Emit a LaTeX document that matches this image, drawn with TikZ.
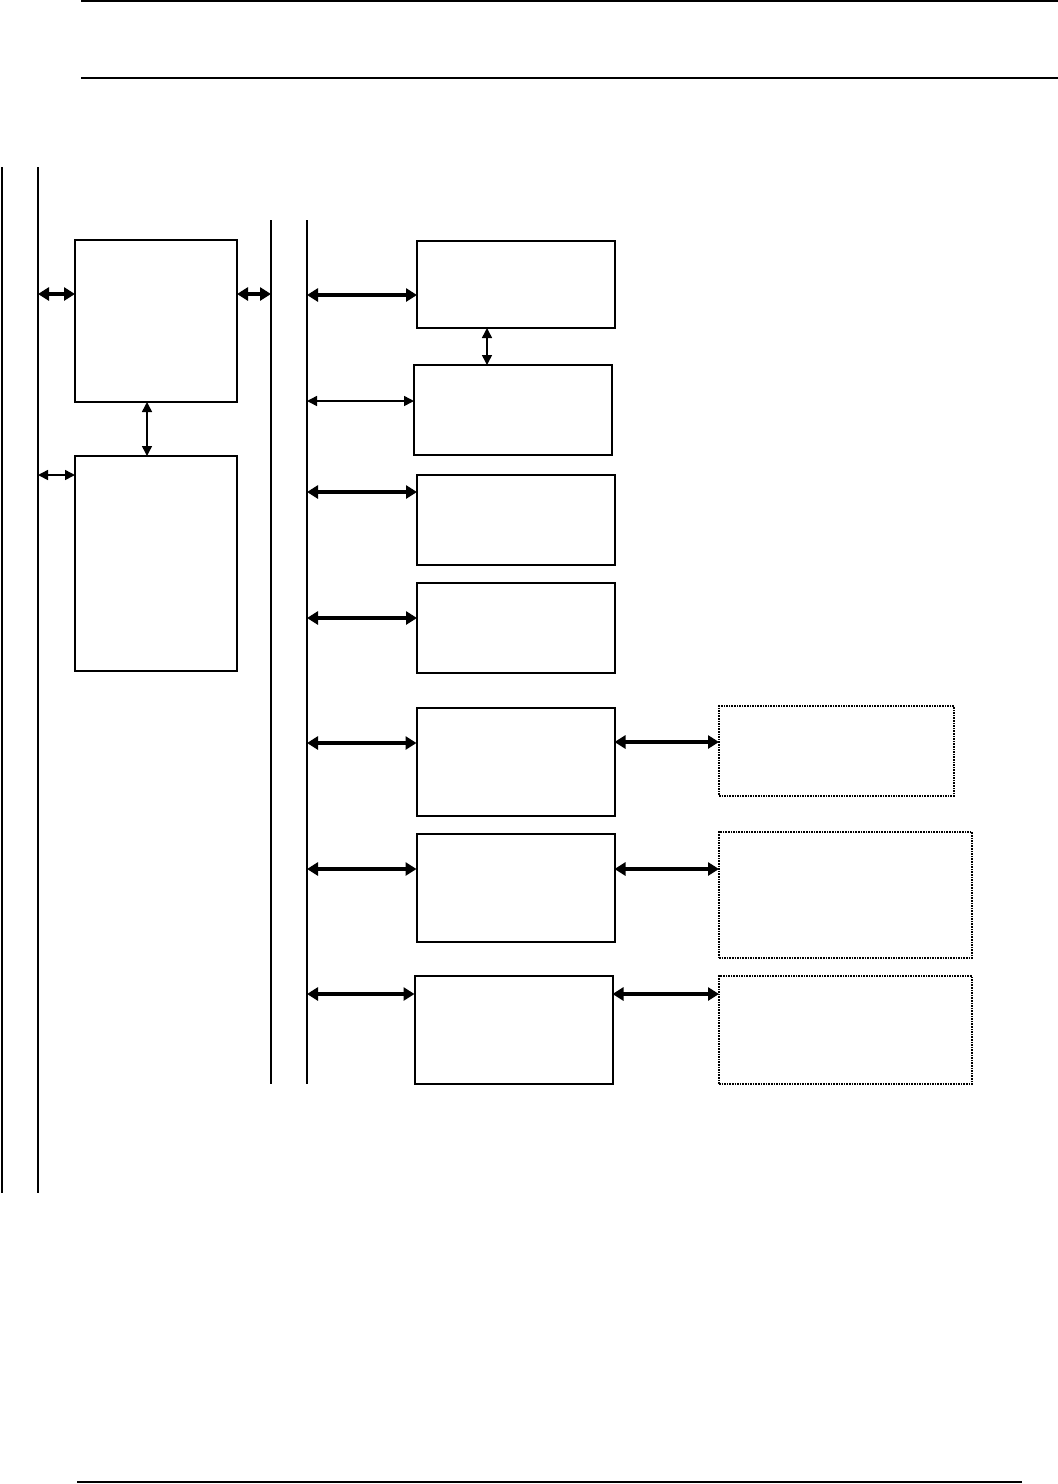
\documentclass[tikz,border=0pt]{standalone}
\usetikzlibrary{arrows.meta}
\usetikzlibrary{positioning}

\begin{document}
\begin{tikzpicture}[x=1pt,y=-1pt,
  blk/.style={draw,line width=2,rectangle,inner sep=0,outer sep=0},
  extblk/.style={draw,line width=1.6,densely dotted,rectangle,inner sep=0,outer sep=0},
  busline/.style={line width=1.6},
  rule/.style={line width=2.8},
  fatarr/.style={line width=3.5,{Triangle[length=11,width=13]}-{Triangle[length=11,width=13]}},
  thinarr/.style={line width=1.5,{Triangle[length=10,width=10]}-{Triangle[length=10,width=10]}}]
\useasboundingbox (0,0) rectangle (1058,1484);

% page rules
\draw[rule] (81,1) -- (1058,1);
\draw[rule] (81,78) -- (1058,78);
\draw[rule] (77,1482) -- (1022,1482);

% outer bus and inner bus
\coordinate (obL) at (2,167);
\coordinate (obR) at (38,167);
\coordinate (ibL) at (271,220);
\coordinate (ibR) at (307,220);
\draw[busline] (obL) -- (2,1193);
\draw[busline] (obR) -- (38,1193);
\draw[busline] (ibL) -- (271,1084);
\draw[busline] (ibR) -- (307,1084);

% left column
\node[blk,minimum width=162,minimum height=162] (cpu) at (156,321) {};
\node[blk,minimum width=162,minimum height=215] (mem) at (156,563.5) {};

% right column
\node[blk,minimum width=198,minimum height=87] (dev1) at (516,284.5) {};
\node[blk,minimum width=198,minimum height=90] (dev2) at (513,410) {};
\node[blk,minimum width=198,minimum height=90] (dev3) at (516,520) {};
\node[blk,minimum width=198,minimum height=90] (dev4) at (516,628) {};
\node[blk,minimum width=198,minimum height=108] (dev5) at (515.5,762) {};
\node[blk,minimum width=198,minimum height=108] (dev6) at (515.5,888) {};
\node[blk,minimum width=198,minimum height=108] (dev7) at (513.5,1030) {};

% external units
\node[extblk,minimum width=235,minimum height=90] (ext1) at (836.5,751) {};
\node[extblk,minimum width=253,minimum height=126] (ext2) at (845.5,895) {};
\node[extblk,minimum width=253,minimum height=108] (ext3) at (845.5,1030) {};

% links
\coordinate (p0) at (38,294);
\coordinate (p1) at (237,294);
\coordinate (p2) at (38,475);
\draw[fatarr] (p0) -- (p0 -| cpu.west);
\draw[fatarr] (p1) -- (p1 -| ibL);
\draw[thinarr] (p2) -- (p2 -| mem.west);
\draw[thinarr] (cpu.south -| 147,0) -- (mem.north -| 147,0);

\foreach \dv/\yy/\st in {dev1/295/fatarr,dev2/401/thinarr,dev3/492/fatarr,dev4/618/fatarr,dev5/743/fatarr,dev6/869/fatarr,dev7/994/fatarr}
  \draw[\st] (307,\yy) -- (\dv.west |- 0,\yy);
\draw[thinarr] (487,0 |- dev1.south) -- (487,0 |- dev2.north);

\foreach \dv/\ex/\yy in {dev5/ext1/742,dev6/ext2/869,dev7/ext3/994}
  \draw[fatarr] (\dv.east |- 0,\yy) -- (\ex.west |- 0,\yy);

\end{tikzpicture}
\end{document}
